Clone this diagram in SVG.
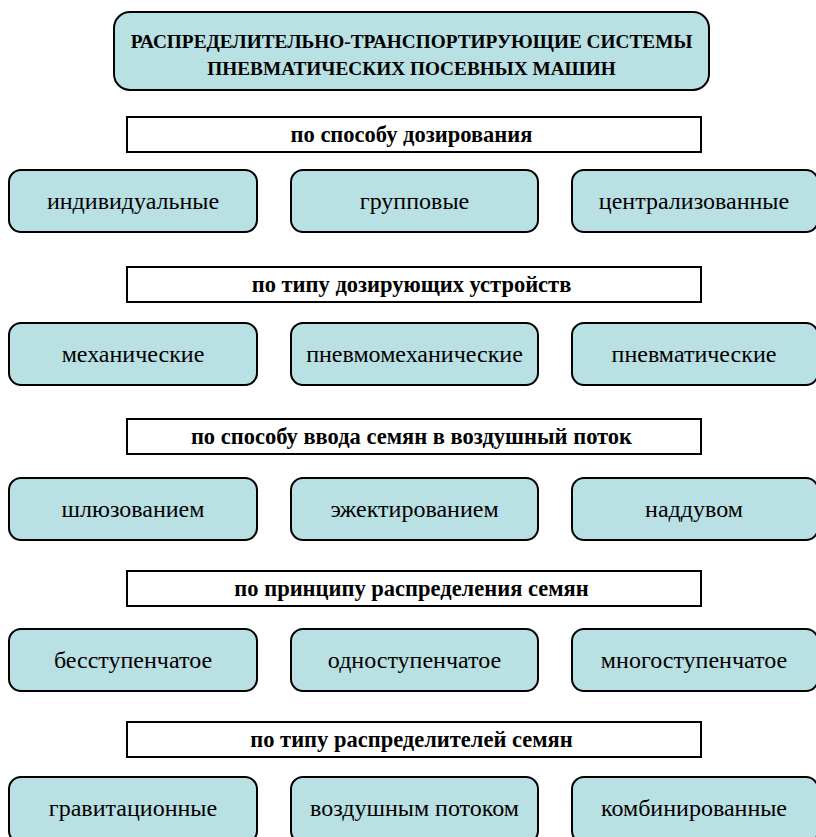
<svg xmlns="http://www.w3.org/2000/svg" width="816" height="837" viewBox="0 0 816 837">
<style>
.node rect{fill:#b9e0e3;stroke:#000;stroke-width:2}
.hdr rect{fill:#fff;stroke:#000;stroke-width:2}
text{font-family:'Liberation Serif','DejaVu Serif',serif;text-anchor:middle;fill:#000}
.node text{font-size:24px}
.hdr text{font-size:22.5px;font-weight:bold}
.title text{font-size:19.3px;font-weight:bold}
</style>
<rect width="816" height="837" fill="#fff"/>
<g id="title" class="node title"><rect x="114" y="12" width="595" height="78" rx="16"/><text x="411.5" y="48">РАСПРЕДЕЛИТЕЛЬНО-ТРАНСПОРТИРУЮЩИЕ СИСТЕМЫ</text><text x="411.5" y="75">ПНЕВМАТИЧЕСКИХ ПОСЕВНЫХ МАШИН</text></g>
<g id="connectors"></g>
<g id="h1" class="hdr"><rect x="127" y="117" width="574" height="35"/><text x="411.5" y="142">по способу дозирования</text></g>
<g id="n1a" class="node"><rect x="9" y="170" width="248" height="62" rx="12"/><text x="133" y="209">индивидуальные</text></g>
<g id="n1b" class="node"><rect x="291" y="170" width="247" height="62" rx="12"/><text x="414.5" y="209">групповые</text></g>
<g id="n1c" class="node"><rect x="572" y="170" width="246" height="62" rx="12"/><text x="694" y="209">централизованные</text></g>
<g id="h2" class="hdr"><rect x="127" y="267" width="574" height="35"/><text x="411.5" y="292">по типу дозирующих устройств</text></g>
<g id="n2a" class="node"><rect x="9" y="323" width="248" height="62" rx="12"/><text x="133" y="362">механические</text></g>
<g id="n2b" class="node"><rect x="291" y="323" width="247" height="62" rx="12"/><text x="414.5" y="362">пневмомеханические</text></g>
<g id="n2c" class="node"><rect x="572" y="323" width="246" height="62" rx="12"/><text x="694" y="362">пневматические</text></g>
<g id="h3" class="hdr"><rect x="127" y="419" width="574" height="35"/><text x="411.5" y="444">по способу ввода семян в воздушный поток</text></g>
<g id="n3a" class="node"><rect x="9" y="478" width="248" height="62" rx="12"/><text x="133" y="517">шлюзованием</text></g>
<g id="n3b" class="node"><rect x="291" y="478" width="247" height="62" rx="12"/><text x="414.5" y="517">эжектированием</text></g>
<g id="n3c" class="node"><rect x="572" y="478" width="246" height="62" rx="12"/><text x="694" y="517">наддувом</text></g>
<g id="h4" class="hdr"><rect x="127" y="571" width="574" height="35"/><text x="411.5" y="596">по принципу распределения семян</text></g>
<g id="n4a" class="node"><rect x="9" y="629" width="248" height="62" rx="12"/><text x="133" y="668">бесступенчатое</text></g>
<g id="n4b" class="node"><rect x="291" y="629" width="247" height="62" rx="12"/><text x="414.5" y="668">одноступенчатое</text></g>
<g id="n4c" class="node"><rect x="572" y="629" width="246" height="62" rx="12"/><text x="694" y="668">многоступенчатое</text></g>
<g id="h5" class="hdr"><rect x="127" y="722" width="574" height="35"/><text x="411.5" y="747">по типу распределителей семян</text></g>
<g id="n5a" class="node"><rect x="9" y="777" width="248" height="66" rx="12"/><text x="133" y="816">гравитационные</text></g>
<g id="n5b" class="node"><rect x="291" y="777" width="247" height="66" rx="12"/><text x="414.5" y="816">воздушным потоком</text></g>
<g id="n5c" class="node"><rect x="572" y="777" width="246" height="66" rx="12"/><text x="694" y="816">комбинированные</text></g>
</svg>
